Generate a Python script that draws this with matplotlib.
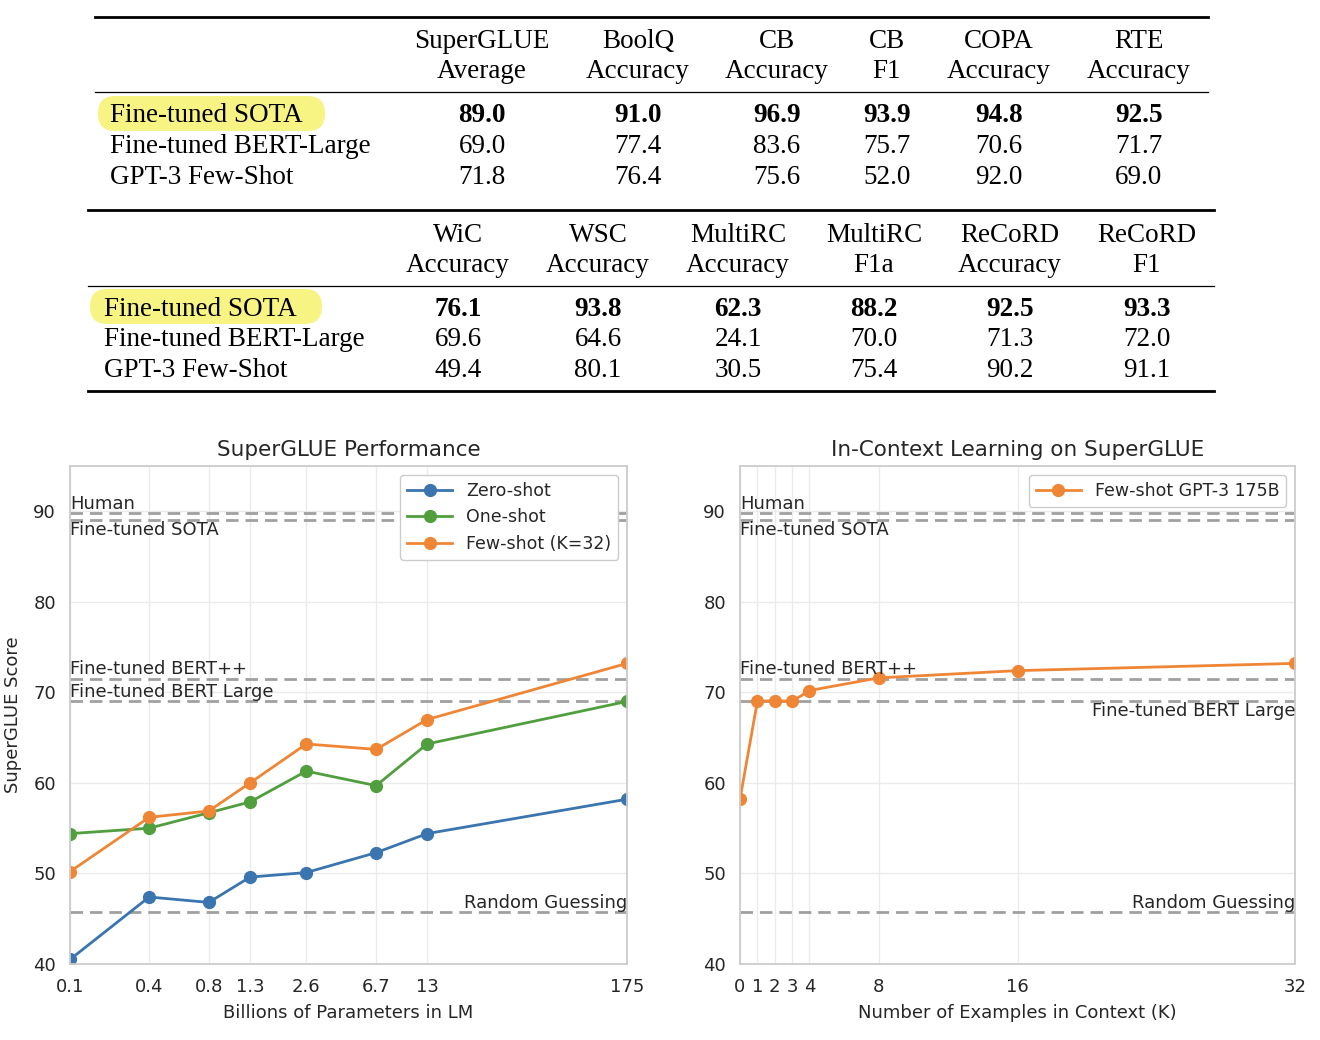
import matplotlib
matplotlib.use("Agg")
import matplotlib.pyplot as plt
from matplotlib.patches import FancyBboxPatch
from matplotlib.lines import Line2D
import matplotlib.transforms as mtransforms

W, H = 1320, 1040

# ---- table data ----
row_labels = ["Fine-tuned SOTA", "Fine-tuned BERT-Large", "GPT-3 Few-Shot"]

head1_top = ["SuperGLUE", "BoolQ", "CB", "CB", "COPA", "RTE"]
head1_bot = ["Average", "Accuracy", "Accuracy", "F1", "Accuracy", "Accuracy"]
vals1_sota = ["89.0", "91.0", "96.9", "93.9", "94.8", "92.5"]
vals1_bert = ["69.0", "77.4", "83.6", "75.7", "70.6", "71.7"]
vals1_gpt3 = ["71.8", "76.4", "75.6", "52.0", "92.0", "69.0"]

head2_top = ["WiC", "WSC", "MultiRC", "MultiRC", "ReCoRD", "ReCoRD"]
head2_bot = ["Accuracy", "Accuracy", "Accuracy", "F1a", "Accuracy", "F1"]
vals2_sota = ["76.1", "93.8", "62.3", "88.2", "92.5", "93.3"]
vals2_bert = ["69.6", "64.6", "24.1", "70.0", "71.3", "72.0"]
vals2_gpt3 = ["49.4", "80.1", "30.5", "75.4", "90.2", "91.1"]

# ---- plot data ----
params = [0.125, 0.35, 0.76, 1.3, 2.7, 6.7, 13, 175]
param_labels = ["0.1", "0.4", "0.8", "1.3", "2.6", "6.7", "13", "175"]
zero_shot = [40.5, 47.4, 46.8, 49.6, 50.1, 52.3, 54.4, 58.2]
one_shot = [54.4, 55.0, 56.7, 57.9, 61.3, 59.7, 64.3, 69.0]
few_shot = [50.2, 56.2, 56.9, 60.0, 64.3, 63.7, 67.0, 73.2]

k_values = [0, 1, 2, 3, 4, 8, 16, 32]
k_scores = [58.2, 69.0, 69.1, 69.0, 70.2, 71.6, 72.4, 73.2]

human = 89.8
sota = 89.0
bert_pp = 71.5
bert_large = 69.0
random_guess = 45.7

BLUE = "#3b75af"
GREEN = "#519e3e"
ORANGE = "#ef8636"
REF = "#a0a0a0"
TXT = "#262626"

fig = plt.figure(figsize=(W / 100, H / 100), dpi=100)


def fx(px):
    return px / W


def fy(py):
    return 1 - py / H


def rule(x0, x1, y, lw):
    fig.add_artist(Line2D([fx(x0), fx(x1)], [fy(y), fy(y)], color="black", lw=lw,
                          transform=fig.transFigure))


def highlight(x0, x1, y0, y1):
    box = FancyBboxPatch((fx(x0), fy(y1)), fx(x1) - fx(x0), fy(y0) - fy(y1),
                         boxstyle="round,pad=0,rounding_size=0.013",
                         transform=fig.transFigure, facecolor="#f8f484",
                         edgecolor="none", mutation_aspect=W / H)
    fig.add_artist(box)


def draw_table(tops, bots, rows, col_x, label_x, y_top, y_h1, y_h2, y_mid, y_rows, y_bot,
               x0, x1, hl):
    serif = dict(family="Liberation Serif", fontsize=19.5, color="black", va="baseline")
    rule(x0, x1, y_top, 2.0)
    rule(x0, x1, y_mid, 0.9)
    if y_bot is not None:
        rule(x0, x1, y_bot, 2.0)
    highlight(*hl)
    for cx, t, b in zip(col_x, tops, bots):
        fig.text(fx(cx), fy(y_h1), t, ha="center", **serif)
        fig.text(fx(cx), fy(y_h2), b, ha="center", **serif)
    for i, (lab, vals) in enumerate(zip(row_labels, rows)):
        fig.text(fx(label_x), fy(y_rows[i]), lab, ha="left", **serif)
        for cx, v in zip(col_x, vals):
            fig.text(fx(cx), fy(y_rows[i]), v, ha="center",
                     fontweight="bold" if i == 0 else "normal", **serif)


draw_table(head1_top, head1_bot, [vals1_sota, vals1_bert, vals1_gpt3],
           [482, 638, 777, 887, 999, 1139], 110, 17, 48, 78, 92, [122, 153, 184], None,
           95, 1208, (98, 325, 96, 131))
draw_table(head2_top, head2_bot, [vals2_sota, vals2_bert, vals2_gpt3],
           [458, 598, 738, 874, 1010, 1147], 104, 210, 242, 272, 286, [316, 346, 377], 391,
           88, 1214, (90, 322, 289, 324))

# ---- plots ----
ax1 = fig.add_axes([fx(70), fy(964), fx(627) - fx(70), fy(466) - fy(964)])
ax2 = fig.add_axes([fx(740), fy(964), fx(1295) - fx(740), fy(466) - fy(964)])

for ax in (ax1, ax2):
    ax.set_facecolor("white")
    ax.grid(True, color="#ebebeb", lw=1.0, zorder=0)
    ax.set_axisbelow(True)
    for s in ax.spines.values():
        s.set_color("#cccccc")
        s.set_linewidth(1.3)
    ax.tick_params(length=0, pad=10, labelsize=13, colors=TXT)
    ax.set_ylim(40, 95)
    ax.set_yticks([40, 50, 60, 70, 80, 90])

line_kw = dict(lw=2.0, marker="o", markersize=8.5)
ax1.plot(params, zero_shot, color=BLUE, label="Zero-shot", **line_kw)
ax1.plot(params, one_shot, color=GREEN, label="One-shot", **line_kw)
ax1.plot(params, few_shot, color=ORANGE, label="Few-shot (K=32)", **line_kw)
ax1.set_xscale("log")
ax1.set_xlim(params[0], params[-1])
ax1.set_xticks(params)
ax1.set_xticklabels(param_labels)
ax1.xaxis.set_minor_locator(matplotlib.ticker.NullLocator())

ax2.plot(k_values, k_scores, color=ORANGE, label="Few-shot GPT-3 175B", **line_kw)
ax2.set_xlim(k_values[0], k_values[-1])
ax2.set_xticks(k_values)

ref_kw = dict(color=REF, lw=2.0, linestyle=(0, (4.5, 2.5)), zorder=1)
lab_kw = dict(fontsize=13, color=TXT)
for ax in (ax1, ax2):
    for v in (human, sota, bert_pp, bert_large, random_guess):
        ax.axhline(v, **ref_kw)
    tr = mtransforms.blended_transform_factory(ax.transAxes, ax.transData)
    ax.text(0.0, human + 0.05, "Human", transform=tr, ha="left", va="bottom", **lab_kw)
    ax.text(0.0, sota - 0.1, "Fine-tuned SOTA", transform=tr, ha="left", va="top", **lab_kw)
    ax.text(0.0, bert_pp + 0.05, "Fine-tuned BERT++", transform=tr, ha="left", va="bottom",
            **lab_kw)
    ax.text(1.0, random_guess + 0.05, "Random Guessing", transform=tr, ha="right",
            va="bottom", **lab_kw)

tr1 = mtransforms.blended_transform_factory(ax1.transAxes, ax1.transData)
ax1.text(0.0, bert_large + 0.05, "Fine-tuned BERT Large", transform=tr1, ha="left",
         va="bottom", **lab_kw)
tr2 = mtransforms.blended_transform_factory(ax2.transAxes, ax2.transData)
ax2.text(1.0, bert_large - 0.1, "Fine-tuned BERT Large", transform=tr2, ha="right",
         va="top", **lab_kw)

ax1.set_title("SuperGLUE Performance", fontsize=15.5, color=TXT, pad=7)
ax2.set_title("In-Context Learning on SuperGLUE", fontsize=15.5, color=TXT, pad=7)
ax1.set_xlabel("Billions of Parameters in LM", fontsize=13, color=TXT, labelpad=6)
ax2.set_xlabel("Number of Examples in Context (K)", fontsize=13, color=TXT, labelpad=6)
ax1.set_ylabel("SuperGLUE Score", fontsize=13, color=TXT, labelpad=8)

leg_kw = dict(loc="upper right", fontsize=12.5, frameon=True, edgecolor="#cccccc",
              fancybox=True, framealpha=1.0, borderaxespad=0.5, handlelength=2.6)
for t in ax1.legend(**leg_kw).get_texts():
    t.set_color(TXT)
for t in ax2.legend(**leg_kw).get_texts():
    t.set_color(TXT)

fig.savefig("out.png", dpi=100, facecolor="white")
